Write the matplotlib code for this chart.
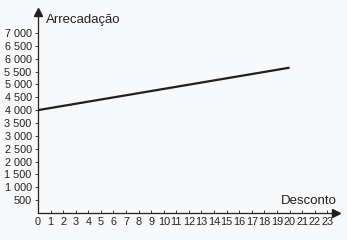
import matplotlib
matplotlib.use("Agg")
import matplotlib.pyplot as plt

desconto = [0, 20]
arrecadacao = [4000, 5650]
xticks = list(range(0, 24))
yticks = [500, 1000, 1500, 2000, 2500, 3000, 3500, 4000, 4500, 5000, 5500, 6000, 6500, 7000]
ylabels = ["500", "1 000", "1 500", "2 000", "2 500", "3 000", "3 500", "4 000",
           "4 500", "5 000", "5 500", "6 000", "6 500", "7 000"]

plt.rcParams['font.family'] = ['Liberation Sans', 'DejaVu Sans']
bg = '#f8f9fb'
txt = '#231f20'

fig = plt.figure(figsize=(3.47, 2.40), dpi=100, facecolor=bg)
ax = fig.add_axes([0.1095, 0.1125, 0.859, 0.838], facecolor=bg)

ax.plot(desconto, arrecadacao, color='#231f20', lw=1.6, solid_capstyle='butt')

ax.set_xlim(0, 23.7)
ax.set_ylim(0, 7820)
for s in ['top', 'right']:
    ax.spines[s].set_visible(False)
for s in ['left', 'bottom']:
    ax.spines[s].set_color('#231f20')
    ax.spines[s].set_linewidth(0.9)

ax.plot(1, 0, '>', color='#231f20', ms=5.5, transform=ax.get_yaxis_transform(), clip_on=False)
ax.plot(0, 1, '^', color='#231f20', ms=5.5, transform=ax.get_xaxis_transform(), clip_on=False)

ax.set_xticks(xticks)
ax.set_xticklabels([str(v) for v in xticks])
ax.set_yticks(yticks)
ax.set_yticklabels(ylabels)
ax.tick_params(axis='x', direction='in', length=2.5, width=0.6, colors='#231f20',
               labelsize=7.8, pad=3, labelcolor=txt)
ax.tick_params(axis='y', direction='out', length=2.5, width=0.6, colors='#231f20',
               labelsize=7.8, pad=2, labelcolor=txt)

fig.text(46 / 347, 1 - 20 / 240, 'Arrecadação', fontsize=9.5, color=txt, ha='left', va='center')
fig.text(337 / 347, 1 - 201 / 240, 'Desconto', fontsize=9.5, color=txt, ha='right', va='center')

fig.savefig('out.png', dpi=100, facecolor=bg)
